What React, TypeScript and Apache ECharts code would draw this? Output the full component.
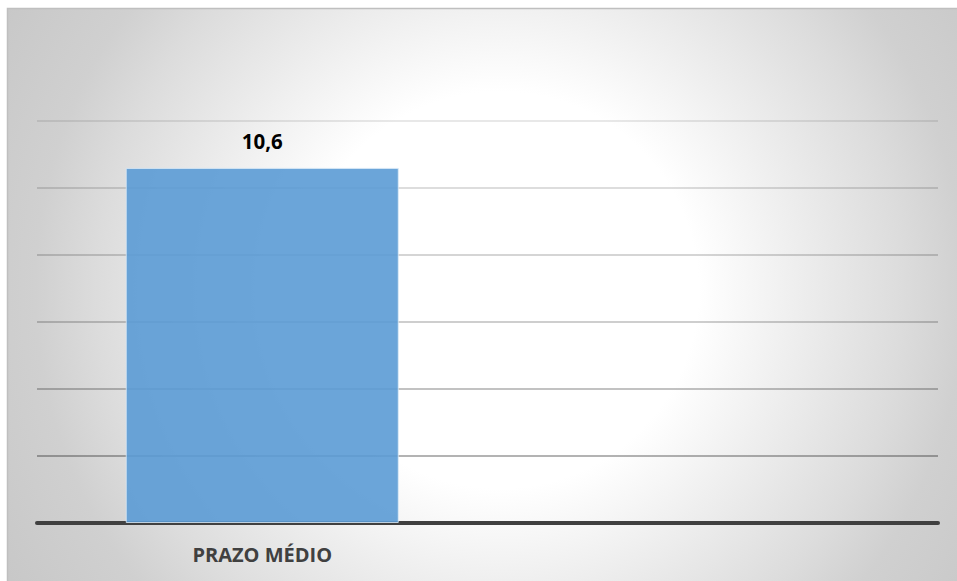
import React, { useEffect, useRef } from "react";
import * as echarts from "echarts";

const categories = ["PRAZO MÉDIO", ""];
const values = [10.6, null];
const axisMin = 0;
const axisMax = 12;
const axisInterval = 2;

export default function App() {
  const ref = useRef<HTMLDivElement>(null);
  useEffect(() => {
    if (!ref.current) return;
    const chart = echarts.init(ref.current, null, { renderer: "svg" });
    chart.setOption({
      animation: false,
      graphic: [
        {
          type: "rect",
          z: -10,
          silent: true,
          shape: { x: 7.5, y: 8.5, width: 960, height: 590 },
          style: {
            fill: {
              type: "radial",
              x: 500,
              y: 290,
              r: 620,
              global: true,
              colorStops: [
                { offset: 0, color: "#ffffff" },
                { offset: 0.32, color: "#ffffff" },
                { offset: 0.47, color: "#efefef" },
                { offset: 0.65, color: "#dcdcdc" },
                { offset: 0.75, color: "#d0d0d0" },
                { offset: 1, color: "#c4c4c4" },
              ],
            },
            stroke: "#bfbfbf",
            lineWidth: 1.5,
          },
        },
      ],
      grid: { left: 37, right: 19, top: 121, bottom: 58, containLabel: false },
      xAxis: {
        type: "category",
        data: categories,
        axisTick: { show: false },
        axisLine: { show: true, lineStyle: { color: "#404040", width: 4 } },
        axisLabel: {
          color: "#404040",
          fontFamily: "Open Sans",
          fontWeight: "bold",
          fontSize: 20,
          margin: 21,
        },
      },
      yAxis: {
        type: "value",
        min: axisMin,
        max: axisMax,
        interval: axisInterval,
        axisLabel: { show: false },
        axisLine: { show: false },
        axisTick: { show: false },
        splitLine: {
          show: true,
          lineStyle: {
            width: 1.5,
            color: [
              "rgba(0,0,0,0.4)",
              "rgba(0,0,0,0.4)",
              "rgba(0,0,0,0.32)",
              "rgba(0,0,0,0.26)",
              "rgba(0,0,0,0.22)",
              "rgba(0,0,0,0.18)",
              "rgba(0,0,0,0.12)",
            ],
          },
        },
      },
      series: [
        {
          type: "bar",
          data: values,
          barWidth: "60.6%",
          itemStyle: {
            color: "rgba(91,155,213,0.9)",
            borderColor: "rgba(220,235,248,0.8)",
            borderWidth: 1,
          },
          label: {
            show: true,
            position: "top",
            distance: 16,
            color: "#000000",
            fontFamily: "Open Sans",
            fontWeight: "bold",
            fontSize: 20.5,
            formatter: (p: any) => String(p.value).replace(".", ","),
          },
        },
      ],
    });
    return () => chart.dispose();
  }, []);
  return (
    <div
      ref={ref}
      style={{ position: "absolute", left: 0, top: 0, width: 957, height: 581 }}
    />
  );
}
